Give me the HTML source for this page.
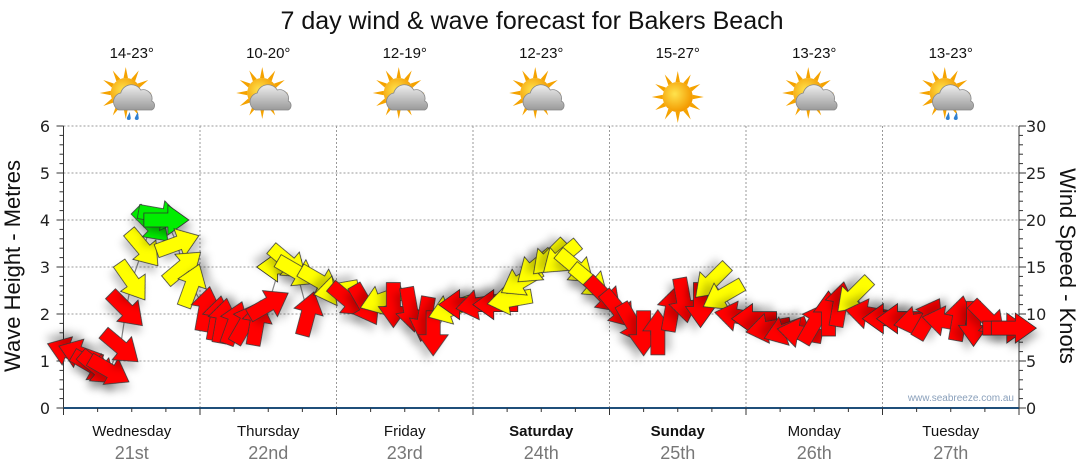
<!DOCTYPE html>
<html><head><meta charset="utf-8"><style>
body{margin:0;background:#fff;}
svg{display:block;font-family:"Liberation Sans",Arial,sans-serif;}
</style></head><body>
<svg id="chart" width="1080" height="475" viewBox="0 0 1080 475">
<defs>
<filter id="sh" x="-50%" y="-50%" width="200%" height="200%"><feDropShadow dx="4" dy="6" stdDeviation="4" flood-color="#000" flood-opacity="0.22"/></filter>
<radialGradient id="sun" cx="0.4" cy="0.4" r="0.6"><stop offset="0" stop-color="#ffe34d"/><stop offset="1" stop-color="#f39a00"/></radialGradient>
<linearGradient id="cloud" x1="0" y1="0" x2="0" y2="1"><stop offset="0" stop-color="#eeeeee"/><stop offset="1" stop-color="#9a9a9a"/></linearGradient>
</defs>
<text x="532" y="29" font-size="25" text-anchor="middle" fill="#111">7 day wind &amp; wave forecast for Bakers Beach</text>
<g id="topg"></g>
<g id="grid"></g>
<g id="axes"></g>
<g id="marks"></g>
<text x="1014" y="401" font-size="10" text-anchor="end" fill="#8aa0bb">www.seabreeze.com.au</text>
<text transform="translate(20,266) rotate(-90)" font-size="22" text-anchor="middle" fill="#111">Wave Height - Metres</text>
<text transform="translate(1060,266) rotate(90)" font-size="22" text-anchor="middle" fill="#111">Wind Speed - Knots</text>
</svg>
<script>
const days=["Wednesday","Thursday","Friday","Saturday","Sunday","Monday","Tuesday"];
const dates=["21st","22nd","23rd","24th","25th","26th","27th"];
const temps=["14-23°","10-20°","12-19°","12-23°","15-27°","13-23°","13-23°"];
const iconType=["rain","cloud","cloud","cloud","sun","cloud","rain"];
const boldDays=[false,false,false,true,true,false,false];
const waveTicks=[0,1,2,3,4,5,6];
const windTicks=[0,5,10,15,20,25,30];
const hours=[1,3,5,6,8,10,11,12,14,15.5,17,18,20,21,22.5,25,27,28,30,32,34,36,38,39.5,41,43,45,48,50,53,56,58,61,63.5,65,68,70,73,76,78.5,80.5,83,85.5,87.5,90,92.5,95,97.5,100,102,104.5,107,109,112,114,116,118.5,121.5,124,127,129.5,132,134.5,136.5,139,141.5,144.5,147,150,152,155,157.5,160,162.5,165.5,167];
const waves=[1.2,1.15,0.9,0.85,0.8,1.3,2.1,2.7,3.4,3.9,4.1,4.0,3.5,3.0,2.6,2.1,1.9,1.85,1.8,1.8,1.8,2.2,3.0,3.1,2.9,2.0,2.7,2.5,2.3,2.2,2.3,2.2,2.1,1.9,1.6,2.1,2.2,2.2,2.2,2.3,2.7,3.0,3.2,3.2,3.0,2.7,2.4,2.1,1.8,1.6,1.6,2.1,2.3,2.2,2.7,2.4,1.95,1.9,1.7,1.65,1.6,1.8,2.0,2.2,2.4,2.0,1.9,1.9,1.85,1.9,1.85,1.9,1.8,1.9,1.7,1.7];
const dirs=[200,200,30,40,30,40,45,55,50,45,10,0,-20,-40,-70,-80,-80,-80,-70,-60,-80,-30,180,40,30,-75,30,170,40,60,160,90,80,100,90,160,180,170,180,170,150,140,135,140,40,40,45,50,60,90,-90,-80,80,90,135,150,190,180,170,160,190,-60,-90,-80,135,190,180,180,170,-60,190,-80,90,45,0,0];
const speeds=[8,8,8,8,8,8,9,14,15,22,23,22,15,14,13,9,9,9,8,8,8,9,14,14,13,9,13,13,9,9,12,9,9,8,8,12,9,9,9,12,13,14,15,15,14,13,9,9,8,8,8,9,9,9,14,13,9,8,8,8,8,8,8,9,12,8,8,8,8,8,8,8,8,8,8,8];

const NS="http://www.w3.org/2000/svg";
const X0=63.5,X1=1019,Y0=408,PXM=47;
const xS=h=>X0+h*(X1-X0)/168;
const yW=v=>Y0-v*PXM;
const yK=k=>Y0-k*(6*PXM/30);
function mk(tag,attrs,parent){const e=document.createElementNS(NS,tag);for(const k in attrs)e.setAttribute(k,attrs[k]);parent.appendChild(e);return e;}
const grid=document.getElementById('grid'),axes=document.getElementById('axes'),marks=document.getElementById('marks'),topG=document.getElementById('topg');

waveTicks.forEach(v=>{
  if(v>0){const l=mk('line',{x1:X0,x2:X1,y1:yW(v),y2:yW(v),stroke:'#999','stroke-dasharray':'2,2','stroke-width':1},grid);
  
  }
  const t=mk('text',{x:50,y:yW(v)+6,'font-size':16,'text-anchor':'end',fill:'#222','font-family':'DejaVu Sans, sans-serif'},axes);t.textContent=v;
  
  
});
windTicks.forEach(k=>{
  const t=mk('text',{x:1026,y:yK(k)+6,'font-size':16,fill:'#222','font-family':'DejaVu Sans, sans-serif'},axes);t.textContent=k;
  
  
});
for(let i=0;i<=30;i++){const y=Y0-i*PXM/5;
  mk('line',{x1:X0-(i%5?4:7),x2:X0,y1:y,y2:y,stroke:'#333'},axes);
  mk('line',{x1:X1,x2:X1+(i%5?4:7),y1:y,y2:y,stroke:'#333'},axes);}
mk('line',{x1:X0,x2:X0,y1:yW(6),y2:Y0,stroke:'#333'},axes);
mk('line',{x1:X1,x2:X1,y1:yW(6),y2:Y0,stroke:'#333'},axes);
const base=mk('line',{x1:X0,x2:X1,y1:Y0,y2:Y0,stroke:'#1f4f7a','stroke-width':2},axes);


for(let h=0;h<=168;h+=6){mk('line',{x1:xS(h),x2:xS(h),y1:Y0,y2:Y0+(h%24?4:7),stroke:'#333'},axes);}
for(let d=1;d<7;d++){const l=mk('line',{x1:xS(d*24),x2:xS(d*24),y1:yW(6),y2:Y0,stroke:'#999','stroke-dasharray':'2,2'},grid);
  
  }

function icon(g,type,cx,cy){
  const sunX=type==='sun'?cx:cx-6, sunY=type==='sun'?cy:cy-4;
  for(let i=0;i<12;i++){const a=i*Math.PI/6;
    mk('polygon',{points:[[sunX+Math.cos(a-0.15)*15,sunY+Math.sin(a-0.15)*15],[sunX+Math.cos(a)*26,sunY+Math.sin(a)*26],[sunX+Math.cos(a+0.15)*15,sunY+Math.sin(a+0.15)*15]].map(p=>p.join(',')).join(' '),fill:'#f5a300'},g);}
  mk('circle',{cx:sunX,cy:sunY,r:15,fill:'url(#sun)'},g);
  if(type!=='sun'){
    mk('path',{d:`M${cx-13},${cy+13} a9,9 0 0 1 2,-17 a11,11 0 0 1 20,-3 a9,9 0 0 1 11,11 a5,5 0 0 1 0,9 z`,fill:'url(#cloud)',stroke:'#888','stroke-width':0.8},g);
  }
  if(type==='rain'){
    mk('path',{d:`M${cx-2},${cy+15} l-3,6 a2,2 0 0 0 4,0 z`,fill:'#2f7fd0'},g);
    mk('path',{d:`M${cx+6},${cy+15} l-3,6 a2,2 0 0 0 4,0 z`,fill:'#2f7fd0'},g);
  }
}
days.forEach((d,i)=>{
  const cx=xS(i*24+12);
  const g=mk('g',{},topG);
  
  
  const t=mk('text',{x:cx,y:58,'font-size':15,'text-anchor':'middle',fill:'#111'},g);t.textContent=temps[i];
  
  
  const ig=mk('g',{},g);
  
  
  icon(ig,iconType[i],cx,97);
  const dl=mk('text',{x:cx,y:436,'font-size':15,'text-anchor':'middle',fill:'#111','font-weight':boldDays[i]?'bold':'normal'},axes);dl.textContent=d;
  
  
  const dt=mk('text',{x:cx,y:459,'font-size':18,'text-anchor':'middle',fill:'#777'},axes);dt.textContent=dates[i];
  
  
});

const pl=mk('polyline',{points:hours.map((h,i)=>xS(h)+','+yW(waves[i])).join(' '),fill:'none',stroke:'#888','stroke-width':1.2},marks);


const col=s=>s>=20?'#00ee00':(s>=12?'#ffff00':'#ff0000');
hours.forEach((h,i)=>{
  const a=mk('polygon',{points:'-22,-7 2,-7 2,-15 23,0 2,15 2,7 -22,7',
    transform:`translate(${xS(h)},${yW(waves[i])}) rotate(${dirs[i]})`,
    fill:col(speeds[i]),stroke:'#333','stroke-width':0.8,filter:'url(#sh)'},marks);
  
  
});
</script>
</body></html>
